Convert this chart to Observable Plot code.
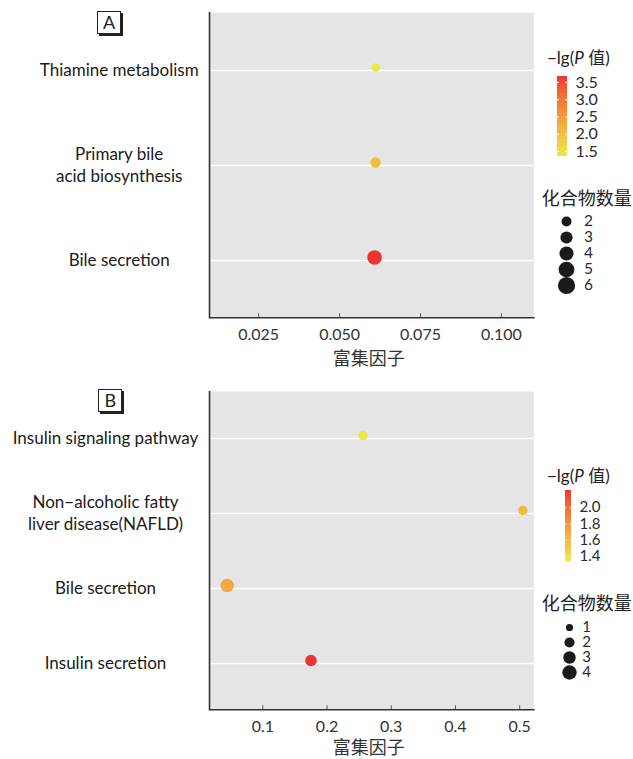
<!DOCTYPE html>
<html><head><meta charset="utf-8">
<script src="https://cdn.jsdelivr.net/npm/d3@7"></script>
<script src="https://cdn.jsdelivr.net/npm/@observablehq/plot@0.6"></script>
<style>
body{margin:0;background:#fff;}
#root{position:relative;width:633px;height:759px;overflow:hidden;font-family:Lato,"Noto Sans CJK SC",sans-serif;color:#222;}
#root svg{position:absolute;overflow:visible;}
.box{position:absolute;width:22px;height:21px;border:1.3px solid #222;box-shadow:2px 2px 0 #222;font-size:18px;line-height:21px;text-align:center;background:#fff;}
.ttl{position:absolute;white-space:nowrap;line-height:1;}
</style></head><body><div id="root"></div>
<script>
// ---------- Panel A data ----------
const pathwaysA = ["Thiamine metabolism", "Primary bile\nacid biosynthesis", "Bile secretion"];
const enrichA = [0.0612, 0.0611, 0.0608];
const lgpA = [1.36, 1.98, 3.67];
const countA = [2, 3, 6];
const xTicksA = [0.025, 0.05, 0.075, 0.1];
const colorTicksA = [1.5, 2.0, 2.5, 3.0, 3.5];
const sizeBreaksA = [2, 3, 4, 5, 6];

// ---------- Panel B data ----------
const pathwaysB = ["Insulin signaling pathway", "Non\u2212alcoholic fatty\nliver disease(NAFLD)", "Bile secretion", "Insulin secretion"];
const enrichB = [0.2558, 0.505, 0.0446, 0.175];
const lgpB = [1.34, 1.60, 1.70, 2.21];
const countB = [2, 2, 4, 3];
const xTicksB = [0.1, 0.2, 0.3, 0.4, 0.5];
const colorTicksB = [1.4, 1.6, 1.8, 2.0];
const sizeBreaksB = [1, 2, 3, 4];

const xTitle = "富集因子";
const colorTitle = "\u2212lg(<i>P</i> 值)";
const sizeTitle = "化合物数量";

const LOW = "#ebe845", HIGH = "#ee3333";
const FONT = 'Lato, "Noto Sans CJK SC", sans-serif';
const root = document.getElementById("root");

function place(el, left, top) {
  el.style.left = left + "px"; el.style.top = top + "px";
  root.appendChild(el);
}
function colorScale(vals) {
  return {type: "linear", domain: d3.extent(vals), range: [LOW, HIGH], interpolate: "lab"};
}

function panel(cfg) {
  const rows = cfg.pathways.map((p, i) => ({p, x: cfg.enrich[i], c: cfg.lgp[i], n: cfg.count[i]}));
  const plotH = cfg.bottom - cfg.top;
  return Plot.plot({
    width: 633, height: cfg.height,
    marginLeft: 209, marginRight: 633 - 533.3, marginTop: cfg.top, marginBottom: cfg.height - cfg.bottom,
    style: {fontFamily: FONT, background: "transparent"},
    x: {domain: cfg.xDomain},
    y: {type: "point", domain: cfg.pathways, padding: 0.6, axis: null},
    color: colorScale(cfg.lgp),
    r: {type: "sqrt", domain: [0, d3.max(cfg.count)], range: [0, cfg.rMax]},
    marks: [
      Plot.frame({fill: "#e5e5e5", stroke: "none"}),
      Plot.ruleY(cfg.pathways, {y: d => d, stroke: "#fff", strokeWidth: 1.3}),
      Plot.dot(rows, {x: "x", y: "p", r: "n", fill: "c", dy: -3}),
      Plot.ruleX([cfg.xDomain[0]], {stroke: "#333", strokeWidth: 1.6}),
      Plot.frame({anchor: "bottom", stroke: "#333", strokeWidth: 1.6}),
      Plot.tickX(cfg.xTicks, {x: d => d, insetTop: plotH - 4, stroke: "#555", strokeWidth: 1}),
      Plot.axisX(cfg.xTicks, {tickSize: 0, tickPadding: 10.5, tickFormat: cfg.fmt, fontSize: 16, fill: "#333", label: null}),
      Plot.text(cfg.pathways, {y: d => d, text: d => d, frameAnchor: "left", dx: -cfg.labelOff, dy: -1.5,
        textAnchor: "middle", lineAnchor: "middle", lineHeight: 1.32, fontSize: 17, fill: "#1a1a1a"}),
      Plot.text([xTitle], {text: d => d, frameAnchor: "bottom", dy: cfg.titleOff, dx: -3, fontSize: 18,
        fill: "#333", lineAnchor: "middle"})
    ]
  });
}

function colorbar(cfg) {
  const [d0, d1] = d3.extent(cfg.lgp);
  const n = 24;
  const bins = d3.range(n).map(i => [d0 + (d1 - d0) * i / n, d0 + (d1 - d0) * (i + 1) / n]);
  return Plot.plot({
    width: cfg.cbW + 50, height: cfg.cbH + 20,
    marginLeft: 0, marginRight: 50, marginTop: 10, marginBottom: 10,
    style: {fontFamily: FONT, background: "transparent"},
    x: {domain: [0, 1], axis: null},
    y: {domain: [d0, d1], axis: null},
    color: colorScale(cfg.lgp),
    marks: [
      Plot.rect(bins, {x1: 0, x2: 1, y1: d => d[0], y2: d => d[1], fill: d => (d[0] + d[1]) / 2, shapeRendering: "crispEdges"}),
      Plot.ruleY(cfg.colorTicks, {y: d => d, x1: 0, x2: 0.2, stroke: "#fff", strokeWidth: 1}),
      Plot.ruleY(cfg.colorTicks, {y: d => d, x1: 0.8, x2: 1, stroke: "#fff", strokeWidth: 1}),
      Plot.axisY(cfg.colorTicks, {anchor: "right", tickSize: 0, tickPadding: 8, tickFormat: ".1f", fontSize: cfg.cbFont, fill: "#2a2a2a", label: null})
    ]
  });
}

function sizeLegend(cfg) {
  const brk = cfg.sizeBreaks;
  return Plot.plot({
    width: 20, height: cfg.sStep * (brk.length - 1) + 20,
    marginLeft: 0, marginRight: 20, marginTop: 10, marginBottom: 10,
    style: {fontFamily: FONT, background: "transparent", overflow: "visible"},
    y: {type: "point", domain: brk, padding: 0, axis: null},
    r: {type: "sqrt", domain: [0, d3.max(brk)], range: [0, cfg.legendRMax]},
    marks: [
      Plot.dot(brk, {y: d => d, r: d => d, fill: "#1a1a1a", frameAnchor: "left", dx: 10}),
      Plot.axisY(brk, {anchor: "left", tickSize: 0, tickPadding: 0, dx: 10 + cfg.sLabelGap, textAnchor: "start",
        fontSize: cfg.sFont, fill: "#2a2a2a", label: null})
    ]
  });
}

function addPanel(cfg) {
  place(panel(cfg), 0, cfg.y0);
  const box = document.createElement("div");
  box.className = "box"; box.textContent = cfg.letter;
  place(box, cfg.boxX, cfg.boxY);
  const ct = document.createElement("div");
  ct.className = "ttl"; ct.innerHTML = colorTitle; ct.style.fontSize = "17px";
  place(ct, 547, cfg.ctY - 8.5);
  place(colorbar(cfg), cfg.cbX, cfg.cbY - 10);
  const st = document.createElement("div");
  st.className = "ttl"; st.textContent = sizeTitle; st.style.fontSize = "18px";
  place(st, 541.7, cfg.stY - 9);
  place(sizeLegend(cfg), cfg.sX - 10, cfg.sY - 10);
}

addPanel({
  letter: "A", y0: 0, height: 380, top: 12.1, bottom: 317.2,
  pathways: pathwaysA, enrich: enrichA, lgp: lgpA, count: countA,
  xDomain: [0.0098, 0.110], xTicks: xTicksA, fmt: ".3f", rMax: 7.3,
  labelOff: 90.3, titleOff: 41.8,
  boxX: 97, boxY: 10.7,
  ctY: 57.5, cbX: 557, cbY: 76, cbW: 10, cbH: 80, cbFont: 16, colorTicks: colorTicksA,
  stY: 197.7, sX: 565.6, sY: 221, sStep: 16.2, sLabelGap: 17.4, sFont: 15.5, sizeBreaks: sizeBreaksA, legendRMax: 8.6
});
addPanel({
  letter: "B", y0: 380, height: 379, top: 11, bottom: 329.3,
  pathways: pathwaysB, enrich: enrichB, lgp: lgpB, count: countB,
  xDomain: [0.017, 0.522], xTicks: xTicksB, fmt: ".1f", rMax: 6.7,
  labelOff: 104, titleOff: 38.7,
  boxX: 98.4, boxY: 389.3,
  ctY: 475.7, cbX: 565, cbY: 490, cbW: 6, cbH: 71, cbFont: 15, colorTicks: colorTicksB,
  stY: 602.7, sX: 569, sY: 625.7, sStep: 15.7, sLabelGap: 12.7, sFont: 15, sizeBreaks: sizeBreaksB, legendRMax: 7.2
});
</script></body></html>
